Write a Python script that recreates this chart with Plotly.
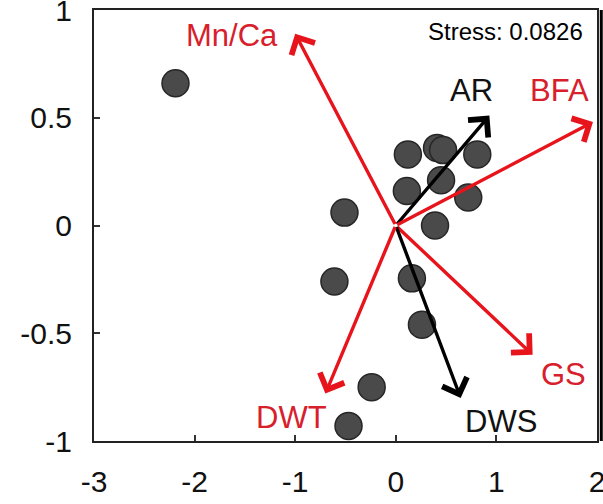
import plotly.graph_objects as go

# NMDS site scores
site_x = [-2.19, -0.51, -0.61, 0.12, 0.11, 0.41, 0.47, 0.45, 0.39, 0.81, 0.72, 0.16, 0.26, -0.24, -0.47]
site_y = [0.66, 0.06, -0.26, 0.33, 0.16, 0.36, 0.35, 0.21, 0.0, 0.33, 0.13, -0.245, -0.46, -0.75, -0.93]

# Fitted environmental vectors (arrow tips) and their labels
vec_names = ["Mn/Ca", "AR", "BFA", "GS", "DWS", "DWT"]
vec_x = [-1.00, 0.93, 1.96, 1.36, 0.645, -0.70]
vec_y = [0.89, 0.51, 0.48, -0.60, -0.80, -0.78]
vec_colors = ["#e8141c", "#000000", "#e8141c", "#e8141c", "#000000", "#e8141c"]
label_x = [-1.63, 0.75, 1.63, 1.67, 1.05, -1.04]
label_y = [0.88, 0.625, 0.625, -0.69, -0.91, -0.89]
label_colors = ["#d8202c", "#111111", "#d8202c", "#d8202c", "#111111", "#d8202c"]

stress_text = "Stress: 0.0826"

x_ticks = [-3, -2, -1, 0, 1, 2]
x_ticktext = ["-3", "-2", "-1", "0", "1", "2"]
y_ticks = [-1, -0.5, 0, 0.5, 1]
y_ticktext = ["-1", "-0.5", "0", "0.5", "1"]

FONT = "Arial, Liberation Sans, sans-serif"

fig = go.Figure()
fig.add_trace(go.Scatter(
    x=site_x, y=site_y, mode="markers",
    marker=dict(size=27, color="#4a4a4a", line=dict(color="#262626", width=1.5)),
    hoverinfo="skip", showlegend=False,
))

annotations = []
for vx, vy, col in zip(vec_x, vec_y, vec_colors):
    annotations.append(dict(
        x=vx, y=vy, ax=0, ay=0, xref="x", yref="y", axref="x", ayref="y",
        text="", showarrow=True, arrowhead=4, arrowsize=1.5, arrowwidth=3.4,
        arrowcolor=col, standoff=0, startstandoff=0,
    ))
for name, lx, ly, col in zip(vec_names, label_x, label_y, label_colors):
    annotations.append(dict(
        x=lx, y=ly, xref="x", yref="y", text=name, showarrow=False,
        font=dict(family=FONT, size=31, color=col),
        xanchor="center", yanchor="middle",
    ))
annotations.append(dict(
    x=0.976, y=0.951, xref="paper", yref="paper", text=stress_text, showarrow=False,
    font=dict(family=FONT, size=24, color="#000000"), xanchor="right", yanchor="middle",
))

axis_common = dict(
    showgrid=False, zeroline=False, showline=True, linecolor="#222222", linewidth=2,
    mirror=True, ticks="inside", ticklen=6, tickwidth=1.5, tickcolor="#333333",
    tickfont=dict(family=FONT, size=30, color="#111111"),
    ticklabeloverflow="allow", automargin=False,
)

fig.update_layout(
    width=603, height=504,
    margin=dict(l=94, r=6, t=10, b=63),
    paper_bgcolor="white", plot_bgcolor="white",
    xaxis=dict(range=[-3, 2], tickvals=x_ticks, ticktext=x_ticktext,
               ticklabelstandoff=13, **axis_common),
    yaxis=dict(range=[-1, 1], tickvals=y_ticks, ticktext=y_ticktext,
               ticklabelstandoff=14, **axis_common),
    annotations=annotations,
    shapes=[dict(type="line", xref="paper", yref="paper", x0=1.0085, x1=1.0085,
                 y0=0, y1=1, line=dict(color="#000000", width=3))],
)

fig.write_html("out.html")
